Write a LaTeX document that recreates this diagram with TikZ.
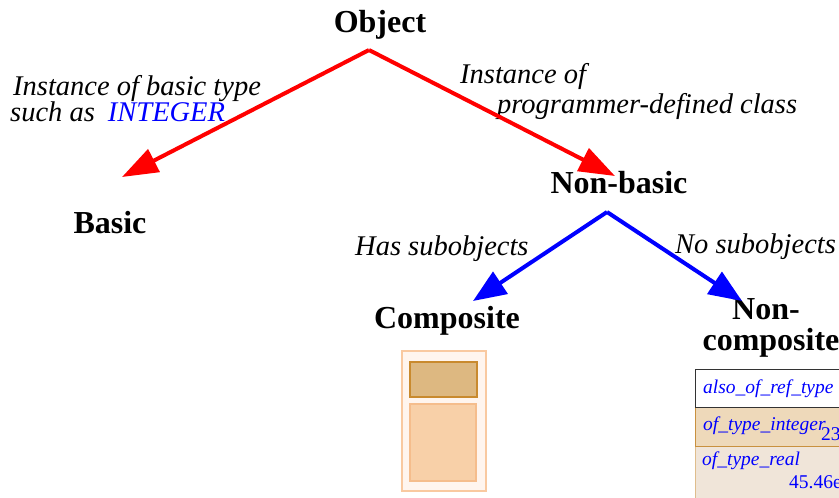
\documentclass[tikz,border=0pt]{standalone}
\usepackage{fontspec}
\setmainfont{Liberation Serif}
\usetikzlibrary{arrows.meta}
\definecolor{boxouter}{HTML}{FFF5EE}
\definecolor{boxouterline}{HTML}{F9C9A0}
\definecolor{boxtop}{HTML}{DDB881}
\definecolor{boxtopline}{HTML}{C98A2E}
\definecolor{boxlow}{HTML}{F8D0A8}
\definecolor{boxlowline}{HTML}{F5BD8C}
\definecolor{rowtwo}{HTML}{EED9BA}
\definecolor{rowtwoline}{HTML}{C9913F}
\definecolor{rowthree}{HTML}{F0E5D9}
\tikzset{
  title/.style={inner sep=0pt, anchor=base, font=\fontsize{32}{34}\selectfont\bfseries},
  lbl/.style={inner sep=0pt, anchor=base west, font=\fontsize{28.5}{30}\selectfont\itshape},
  cell/.style={inner sep=0pt, anchor=base west, text=blue, font=\fontsize{19.5}{21}\selectfont\itshape},
  num/.style={inner sep=0pt, anchor=base west, text=blue, font=\fontsize{19.5}{21}\selectfont},
  redarrow/.style={draw=red, line width=4pt, -{Triangle[length=36pt,width=25pt]}, red},
  bluearrow/.style={draw=blue, line width=4pt, -{Triangle[length=33pt,width=26pt]}, blue},
}
\begin{document}
\begin{tikzpicture}[x=1pt,y=-1pt]
\useasboundingbox (0,0) rectangle (839,498);
\clip (0,0) rectangle (839,498);
% titles
\node[title] (object) at (380,32) {Object};
\node[title] (basic) at (110,233) {Basic};
\node[title] (nonbasic) at (619,193) {Non-basic};
\node[title] (composite) at (447,328) {Composite};
\node[title] (non) at (766,319) {Non-};
\node[title] (noncomp) at (771,350) {composite};
% labels
\node[lbl] (l1a) at (13,95) {Instance of basic type};
\node[lbl] (l1b) at (10,121) {such as\hspace{13pt}\textcolor{blue}{INTEGER}};
\node[lbl] (l2a) at (460,83) {Instance of};
\node[lbl] (l2b) at (497,113) {programmer-defined class};
\node[lbl] (l3) at (355,255) {Has subobjects};
\node[lbl] (l4) at (675,253) {No subobjects};
% connectors
\coordinate (apexA) at (369,50);
\coordinate (tipBasic) at (122,177);
\coordinate (tipNonbasic) at (615,176);
\coordinate (apexB) at (607,212);
\coordinate (tipComposite) at (473,301);
\coordinate (tipNoncomp) at (742,301);
\draw[redarrow] (apexA) -- (tipBasic);
\draw[redarrow] (apexA) -- (tipNonbasic);
\draw[bluearrow] (apexB) -- (tipComposite);
\draw[bluearrow] (apexB) -- (tipNoncomp);
% composite object box
\draw[fill=boxouter, draw=boxouterline, line width=1.5pt] (402,351) rectangle (486,491);
\draw[fill=boxtop, draw=boxtopline, line width=1.5pt] (410,362) rectangle (477,397);
\draw[fill=boxlow, draw=boxlowline, line width=1.5pt] (410,404) rectangle (476,481);
% non-composite table
\draw[fill=rowthree, draw=rowtwoline!60, line width=1pt] (695,446) rectangle (850,510);
\draw[fill=rowtwo, draw=rowtwoline, line width=1pt] (695,407) rectangle (850,446);
\draw[fill=white, draw=black!80, line width=1pt] (695,369) rectangle (850,407);
\node[cell] (c1) at (703,393) {also\_of\_ref\_type};
\node[cell] (c2) at (703,430) {of\_type\_integer};
\node[num] (v2) at (821,440) {23};
\node[cell] (c3) at (702,465) {of\_type\_real};
\node[num] (v3) at (789,488) {45.46e2};
\end{tikzpicture}
\end{document}
